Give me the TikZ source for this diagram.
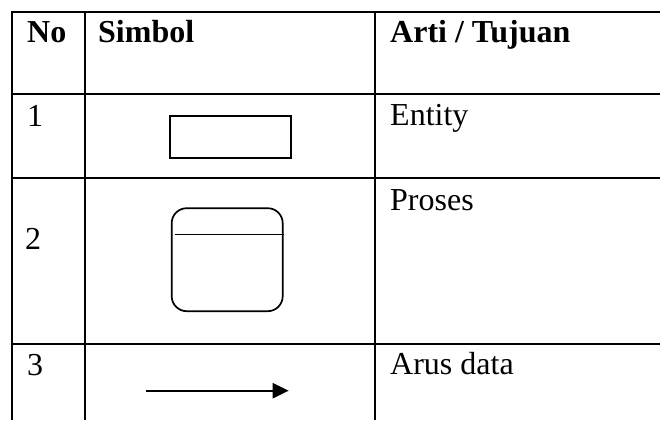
\documentclass[tikz,border=0pt]{standalone}
\usepackage{fontspec}
\setmainfont{Liberation Serif}
\usetikzlibrary{arrows.meta, positioning}

\begin{document}
\begin{tikzpicture}[
x=1pt, y=1pt,
grid/.style={line width=1.8pt},
txt/.style={anchor=base west,
inner sep=0pt,
font=\fontsize{32}{38}\selectfont},
head/.style={txt,
font=\fontsize{32}{38}\selectfont\bfseries},
entity/.style={draw,
rectangle,
line width=1.5pt,
minimum width=121pt,
minimum height=42pt},
proses/.style={draw,
rectangle,
rounded corners=15pt,
line width=1.7pt,
minimum width=111pt,
minimum height=103pt},
arrow/.style={-{Triangle[length=16pt, width=15pt]}, line width=2.2pt}
]

\useasboundingbox (0,0) rectangle (660,-420);

% table lines
\draw[grid] (660,-12) -- (12,-12) -- (12,-420);
\draw[grid] (85,-12) -- (85,-420);
\draw[grid] (375,-12) -- (375,-420);
\draw[grid] (12,-94) -- (660,-94);
\draw[grid] (12,-178) -- (660,-178);
\draw[grid] (12,-344) -- (660,-344);

% header
\node[head] (no) at (27,-43) {No};
\node[head] (simbol) at (98,-43) {Simbol};
\node[head] (arti) at (390,-43) {Arti / Tujuan};

% rows
\node[txt] (no1) at (27,-126) {1};
\node[txt] (arti1) at (390,-125) {Entity};
\node[entity] (ent) at (230.5,-137) {};

\node[txt] (no2) at (25,-249) {2};
\node[txt] (arti2) at (390,-210) {Proses};
\node[proses] (proc) at (227.2,-259.7) {};
\draw[line width=1.7pt] ([xshift=4pt, yshift=-27pt]proc.north west) -- ([yshift=-27pt]proc.north east);

\node[txt] (no3) at (27,-375) {3};
\node[txt] (arti3) at (390,-374) {Arus data};
\coordinate (flowA) at (146,-390.7);
\coordinate (flowB) at (288.7,-390.7);
\draw[arrow] (flowA) -- (flowB);

\end{tikzpicture}
\end{document}
